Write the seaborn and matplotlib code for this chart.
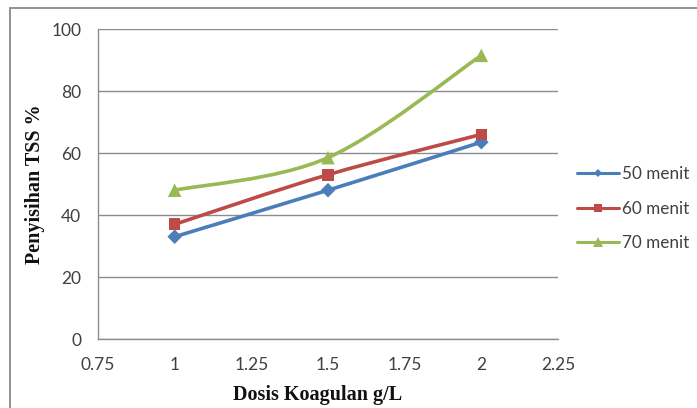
import numpy as np
import pandas as pd
import seaborn as sns
import matplotlib.pyplot as plt
from matplotlib.path import Path
from matplotlib.patches import PathPatch, Rectangle
from matplotlib.lines import Line2D

# Coagulant dose (g/L) and TSS removal (%) per settling time
dosis = [1.0, 1.5, 2.0]
menit_50 = [33, 48, 63.5]
menit_60 = [37, 53, 66]
menit_70 = [48, 58.5, 91.5]
series_names = ["50 menit", "60 menit", "70 menit"]
x_ticks = [0.75, 1, 1.25, 1.5, 1.75, 2, 2.25]
x_tick_labels = ["0.75", "1", "1.25", "1.5", "1.75", "2", "2.25"]
y_ticks = [0, 20, 40, 60, 80, 100]

colors = ["#4A7EBB", "#BE4B48", "#98B954"]
markers = ["D", "s", "^"]
msizes = [55, 70, 95]

df = pd.DataFrame({
    "dosis": dosis * 3,
    "value": menit_50 + menit_60 + menit_70,
    "seri": [s for s in series_names for _ in dosis],
})

sns.set_style("white")
fig = plt.figure(figsize=(6.97, 4.08), dpi=100)
ax = fig.add_axes([98 / 697, 69 / 408, 460 / 697, 310 / 408])

ax.set_xlim(0.75, 2.25)
ax.set_ylim(0, 100)


def smooth_path(xs, ys, trans):
    """Bezier spline through the points, built in display space."""
    pts = trans.transform(np.column_stack([xs, ys]))
    n = len(pts)
    verts = [pts[0]]
    codes = [Path.MOVETO]
    for i in range(n - 1):
        p0 = pts[i - 1] if i > 0 else pts[i]
        p1 = pts[i]
        p2 = pts[i + 1]
        p3 = pts[i + 2] if i + 2 < n else pts[i + 1]
        c1 = p1 + (p2 - p0) / 6.0
        c2 = p2 - (p3 - p1) / 6.0
        verts += [c1, c2, p2]
        codes += [Path.CURVE4] * 3
    return Path(verts, codes)


fig.canvas.draw()
for name, col in zip(series_names, colors):
    sub = df[df["seri"] == name]
    path = smooth_path(sub["dosis"].values, sub["value"].values, ax.transData)
    ax.add_patch(PathPatch(path, facecolor="none", edgecolor=col, lw=2.6,
                           transform=None, zorder=3, capstyle="round",
                           joinstyle="round"))

sns.scatterplot(data=df, x="dosis", y="value", hue="seri", style="seri",
                hue_order=series_names, style_order=series_names,
                palette=colors, markers=dict(zip(series_names, markers)),
                size="seri", sizes=dict(zip(series_names, msizes)),
                edgecolor="none", legend=False, ax=ax, zorder=4)

ax.set_xticks(x_ticks)
ax.set_xticklabels(x_tick_labels)
ax.set_yticks(y_ticks)
ax.yaxis.grid(True, color="#8C8C8C", lw=1.0)
ax.xaxis.grid(False)
for s in ["top", "right"]:
    ax.spines[s].set_visible(False)
for s in ["left", "bottom"]:
    ax.spines[s].set_color("#8C8C8C")
    ax.spines[s].set_linewidth(1.0)

ax.tick_params(axis="x", direction="inout", length=6, width=1, color="#8C8C8C",
               pad=10, labelsize=12.5, labelcolor="#404040")
ax.tick_params(axis="y", direction="out", length=0, pad=12, labelsize=12.5,
               labelcolor="#404040")
for lab in ax.get_xticklabels() + ax.get_yticklabels():
    lab.set_family("Lato")

ax.set_xlabel("")
ax.set_ylabel("")
fig.text(318 / 697, 1 - 395 / 408, "Dosis Koagulan g/L", ha="center", va="center",
         family="Liberation Serif", weight="bold", fontsize=14.5, color="#111111")
fig.text(35 / 697, 1 - 184 / 408, "Penyisihan TSS %", ha="center", va="center",
         rotation=90, family="Liberation Serif", weight="bold", fontsize=14.5,
         color="#111111")

handles = [Line2D([0], [0], color=c, lw=2.2, marker=m, markersize=ms,
                  markeredgewidth=0)
           for c, m, ms in zip(colors, markers, [4.5, 6, 6.5])]
leg = fig.legend(handles, series_names, loc="upper left",
                 bbox_to_anchor=(562 / 697, 1 - 151 / 408), frameon=False,
                 handlelength=2.45, handletextpad=0.15, labelspacing=1.08,
                 prop={"family": "Lato", "size": 12.3})
for t in leg.get_texts():
    t.set_color("#404040")

fig.patches.append(Rectangle((10 / 697, -0.05), 1.2, 1 - 8 / 408 + 0.05,
                             transform=fig.transFigure, fill=False,
                             edgecolor="#8A8A8A", lw=1.3, zorder=0))

fig.savefig("out.png", dpi=100, facecolor="white")
